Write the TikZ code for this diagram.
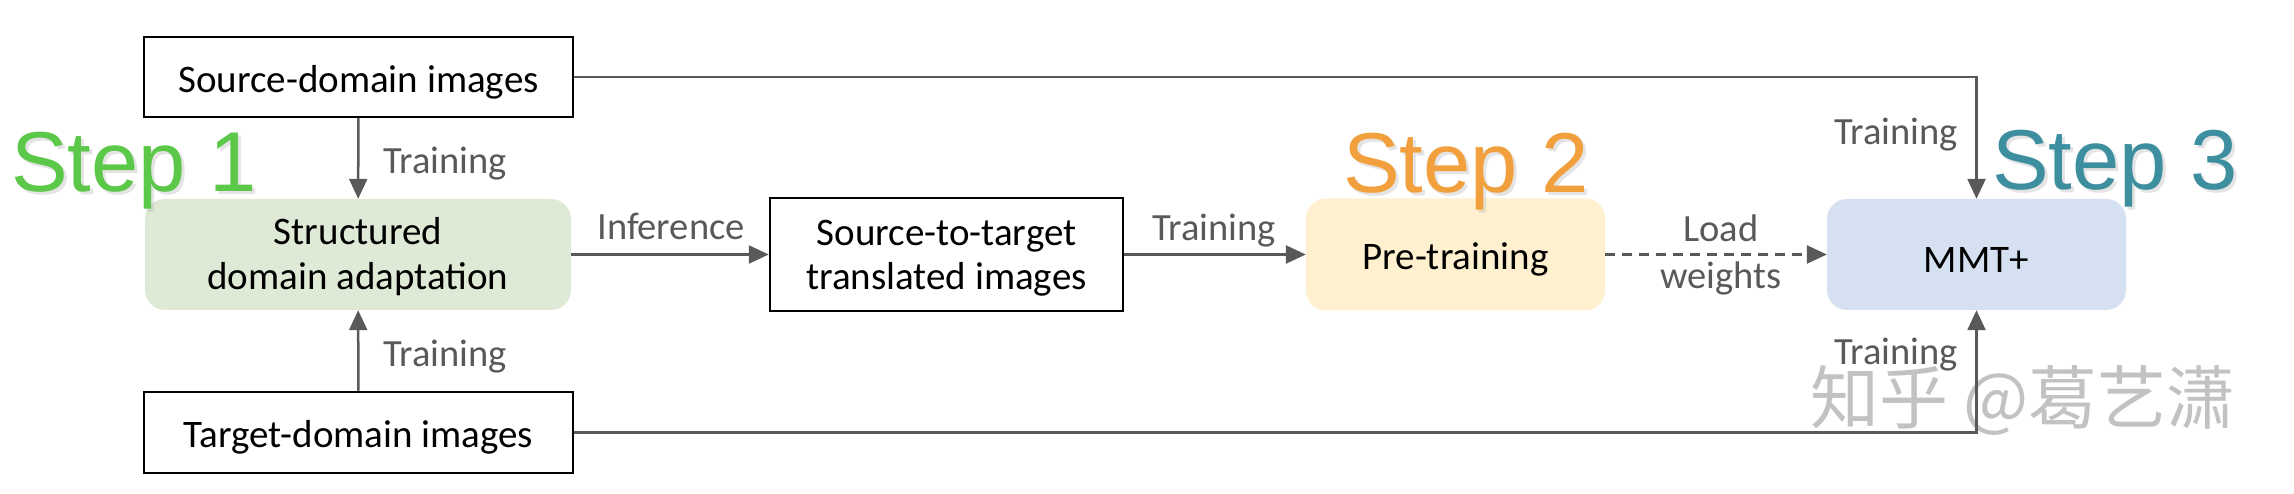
\documentclass[tikz,border=0pt]{standalone}
\usepackage{fontspec}
\setmainfont{Carlito}
\newfontfamily\arialf{Liberation Sans}
\newfontfamily\cjk{Noto Sans CJK SC}
\usetikzlibrary{arrows.meta,calc}
\definecolor{lgray}{HTML}{595959}
\definecolor{sdagreen}{HTML}{DEEAD6}
\definecolor{preyellow}{HTML}{FFF1CF}
\definecolor{mmtblue}{HTML}{D5E1F1}
\definecolor{stepgreen}{HTML}{5CC84A}
\definecolor{steporange}{HTML}{F2A03D}
\definecolor{stepteal}{HTML}{3D8FA0}
\definecolor{wmgray}{HTML}{C2C2C2}
\tikzset{
  plainbox/.style={draw=black, line width=2.5pt, fill=white, align=center,
    inner sep=0pt, font=\fontsize{39}{46}\selectfont,
    execute at begin node={\rule{0pt}{37pt}}},
  softbox/.style={draw=none, rounded corners=20pt, align=center,
    inner sep=0pt, font=\fontsize{39}{47}\selectfont,
    execute at begin node={\rule{0pt}{37pt}}},
  conn/.style={draw=lgray, line width=2.5pt, -{Triangle[length=20pt,width=18pt]}},
  lbl/.style={text=lgray, inner sep=0pt, font=\fontsize{38.5}{47}\selectfont, align=center},
  steplbl/.style={inner sep=0pt, anchor=base west, font=\arialf\fontsize{85}{85}\selectfont},
  stepshadow/.style={steplbl, text=black!30, opacity=0.35},
}
\begin{document}
\begin{tikzpicture}[x=1pt,y=-1pt]
\useasboundingbox (0,0) rectangle (2294,494);

% Nodes
\node[plainbox, minimum width=429pt, minimum height=80pt] (src) at (358.5,77) {Source-domain images};
\node[plainbox, minimum width=429pt, minimum height=81pt] (tgt) at (358.5,432.5) {Target-domain images};
\node[softbox, fill=sdagreen, minimum width=426pt, minimum height=111pt, font=\fontsize{39}{45}\selectfont, text depth=2pt] (sda) at (358,254.5) {Structured\\domain adaptation};
\node[plainbox, minimum width=353pt, minimum height=113pt, font=\fontsize{39}{44}\selectfont, text depth=0pt] (s2t) at (946.5,254.5) {Source-to-target\\translated images};
\node[softbox, fill=preyellow, minimum width=299pt, minimum height=112pt] (pre) at (1455.5,254.5) {Pre-training};
\node[softbox, fill=mmtblue, minimum width=299pt, minimum height=111pt, execute at begin node={\rule{0pt}{35pt}}] (mmt) at (1976.5,254.5) {MMT+};

% Watermark
\node[inner sep=0pt, text=wmgray, font=\cjk\fontsize{69}{69}\selectfont] (wm) at (2023,400) {知乎 @葛艺潇};

% Step labels with soft shadow
\node[stepshadow] (s1sh) at (14,195) {Step 1};
\node[steplbl, text=stepgreen] (s1) at (11,192) {Step 1};
\node[stepshadow] (s2sh) at (1346,196) {Step 2};
\node[steplbl, text=steporange] (s2) at (1343,193) {Step 2};
\node[stepshadow] (s3sh) at (1995,193) {Step 3};
\node[steplbl, text=stepteal] (s3) at (1992,190) {Step 3};

% Connectors
\draw[conn] (src) -- (sda);
\draw[conn] (tgt) -- (sda);
\draw[conn] (sda) -- (s2t);
\draw[conn] (s2t) -- (pre);
\draw[conn, dashed, dash pattern=on 10pt off 7pt] (pre) -- (mmt);
\draw[conn] (src.east) -| (mmt.north);
\draw[conn] (tgt.east) -| (mmt.south);

% Labels
\node[lbl] (l1) at (445,164) {Training};
\node[lbl] (l2) at (445,357) {Training};
\node[lbl] (l3) at (671,226) {Inference};
\node[lbl] (l4) at (1214,231) {Training};
\node[lbl] (l5) at (1721,255) {Load\\weights};
\node[lbl] (l6) at (1896,135) {Training};
\node[lbl] (l7) at (1896,355) {Training};
\end{tikzpicture}
\end{document}
